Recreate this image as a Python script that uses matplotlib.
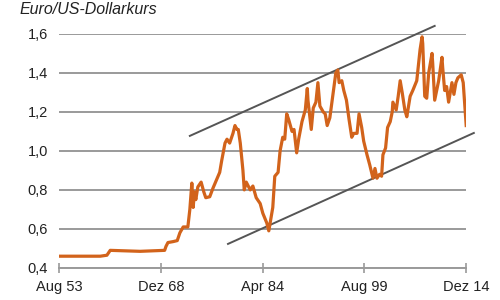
import matplotlib
matplotlib.use("Agg")
import matplotlib.pyplot as plt

plt.rcParams['font.family'] = ['Liberation Sans', 'DejaVu Sans']

# Euro/US-Dollar (back-calculated before 1999), decimal years
years = [1953.6, 1959.8, 1960.8, 1961.3, 1965.8, 1969.5, 1969.7, 1970.0, 1970.8, 1971.4,
         1971.8, 1972.3, 1973.0, 1973.3, 1973.6, 1973.8, 1974.0, 1974.2, 1974.5, 1975.0,
         1975.4, 1975.7, 1976.3, 1976.8, 1977.3, 1977.8, 1978.1, 1978.6, 1978.9, 1979.3,
         1979.8, 1980.1, 1980.4, 1980.6, 1980.9, 1981.3, 1981.5, 1981.8, 1982.4, 1982.8,
         1983.3, 1983.9, 1984.3, 1984.9, 1985.2, 1985.8, 1986.1, 1986.6, 1986.9, 1987.3,
         1987.6, 1987.9, 1988.2, 1988.7, 1989.0, 1989.4, 1989.7, 1990.2, 1990.7, 1991.0,
         1991.1, 1991.6, 1991.9, 1992.3, 1992.6, 1992.9, 1993.4, 1993.7, 1994.0, 1994.4,
         1994.9, 1995.3, 1995.6, 1995.8, 1996.2, 1996.5, 1996.9, 1997.3, 1997.7, 1998.0,
         1998.5, 1998.8, 1999.2, 1999.5, 2000.0, 2000.4, 2000.9, 2001.2, 2001.5, 2001.9,
         2002.2, 2002.4, 2002.8, 2003.1, 2003.5, 2003.8, 2003.9, 2004.4, 2004.7, 2005.0,
         2005.3, 2005.7, 2006.0, 2006.5, 2006.9, 2007.5, 2008.0, 2008.3, 2008.4, 2008.7,
         2009.0, 2009.3, 2009.8, 2009.9, 2010.2, 2010.5, 2010.8, 2011.3, 2011.4, 2011.7,
         2012.0, 2012.3, 2012.8, 2013.1, 2013.4, 2013.7, 2014.2, 2014.5, 2014.6, 2014.8,
         2014.95]
rate = [0.46, 0.46, 0.465, 0.49, 0.485, 0.49, 0.51, 0.53, 0.535, 0.54,
        0.58, 0.61, 0.61, 0.70, 0.835, 0.71, 0.79, 0.75, 0.815, 0.84,
        0.79, 0.76, 0.765, 0.81, 0.85, 0.89, 0.95, 1.04, 1.06, 1.04,
        1.09, 1.13, 1.11, 1.11, 1.04, 0.90, 0.80, 0.84, 0.80, 0.82,
        0.76, 0.73, 0.68, 0.63, 0.59, 0.71, 0.87, 0.89, 1.00, 1.07,
        1.06, 1.19, 1.16, 1.10, 1.11, 0.99, 1.06, 1.15, 1.21, 1.32,
        1.26, 1.11, 1.22, 1.25, 1.35, 1.23, 1.20, 1.19, 1.13, 1.17,
        1.30, 1.40, 1.415, 1.35, 1.36, 1.31, 1.26, 1.16, 1.07, 1.09,
        1.09, 1.19, 1.12, 1.05, 0.98, 0.93, 0.86, 0.91, 0.86, 0.88,
        0.87, 0.98, 1.015, 1.12, 1.15, 1.20, 1.25, 1.21, 1.28, 1.36,
        1.30, 1.21, 1.175, 1.28, 1.31, 1.36, 1.52, 1.585, 1.55, 1.28,
        1.27, 1.40, 1.50, 1.45, 1.26, 1.31, 1.36, 1.48, 1.43, 1.31,
        1.33, 1.25, 1.35, 1.29, 1.35, 1.375, 1.39, 1.35, 1.30, 1.195,
        1.13]

# trend channel endpoints
upper_x = [1973.3, 2010.2]
upper_y = [1.077, 1.641]
lower_x = [1979.05, 2016.1]
lower_y = [0.523, 1.092]

tick_years = [1953.58, 1968.92, 1984.25, 1999.58, 2014.92]
tick_labels = ['Aug 53', 'Dez 68', 'Apr 84', 'Aug 99', 'Dez 14']
y_ticks = [0.4, 0.6, 0.8, 1.0, 1.2, 1.4, 1.6]
y_labels = ['0,4', '0,6', '0,8', '1,0', '1,2', '1,4', '1,6']

fig = plt.figure(figsize=(5, 3), dpi=100)
ax = fig.add_axes([0.118, 0.107, 0.814, 0.78])

ax.plot(years, rate, color='#D2631B', linewidth=2.3, zorder=3)
ax.plot(upper_x, upper_y, color='#555555', linewidth=1.4, clip_on=False, zorder=2)
ax.plot(lower_x, lower_y, color='#555555', linewidth=1.4, clip_on=False, zorder=2)

ax.set_xlim(tick_years[0], tick_years[-1])
ax.set_ylim(0.4, 1.6)
ax.set_yticks(y_ticks)
ax.set_yticklabels(y_labels)
ax.set_xticks(tick_years)
ax.set_xticklabels(tick_labels)

ax.yaxis.grid(True, color='#9a9a9a', linewidth=1.4)
ax.set_axisbelow(True)
for s in ['top', 'right', 'left']:
    ax.spines[s].set_visible(False)
ax.spines['bottom'].set_color('#9a9a9a')
ax.spines['bottom'].set_linewidth(1.4)
ax.tick_params(axis='y', length=0, pad=8, labelsize=10.5, labelcolor='#222222')
ax.tick_params(axis='x', direction='inout', length=7, width=1.2, color='#9a9a9a',
               pad=5, labelsize=10.5, labelcolor='#222222')

fig.text(0.038, 0.955, 'Euro/US-Dollarkurs', fontsize=11.5, style='italic',
         color='#222222', va='baseline')

fig.savefig('out.png', dpi=100)
